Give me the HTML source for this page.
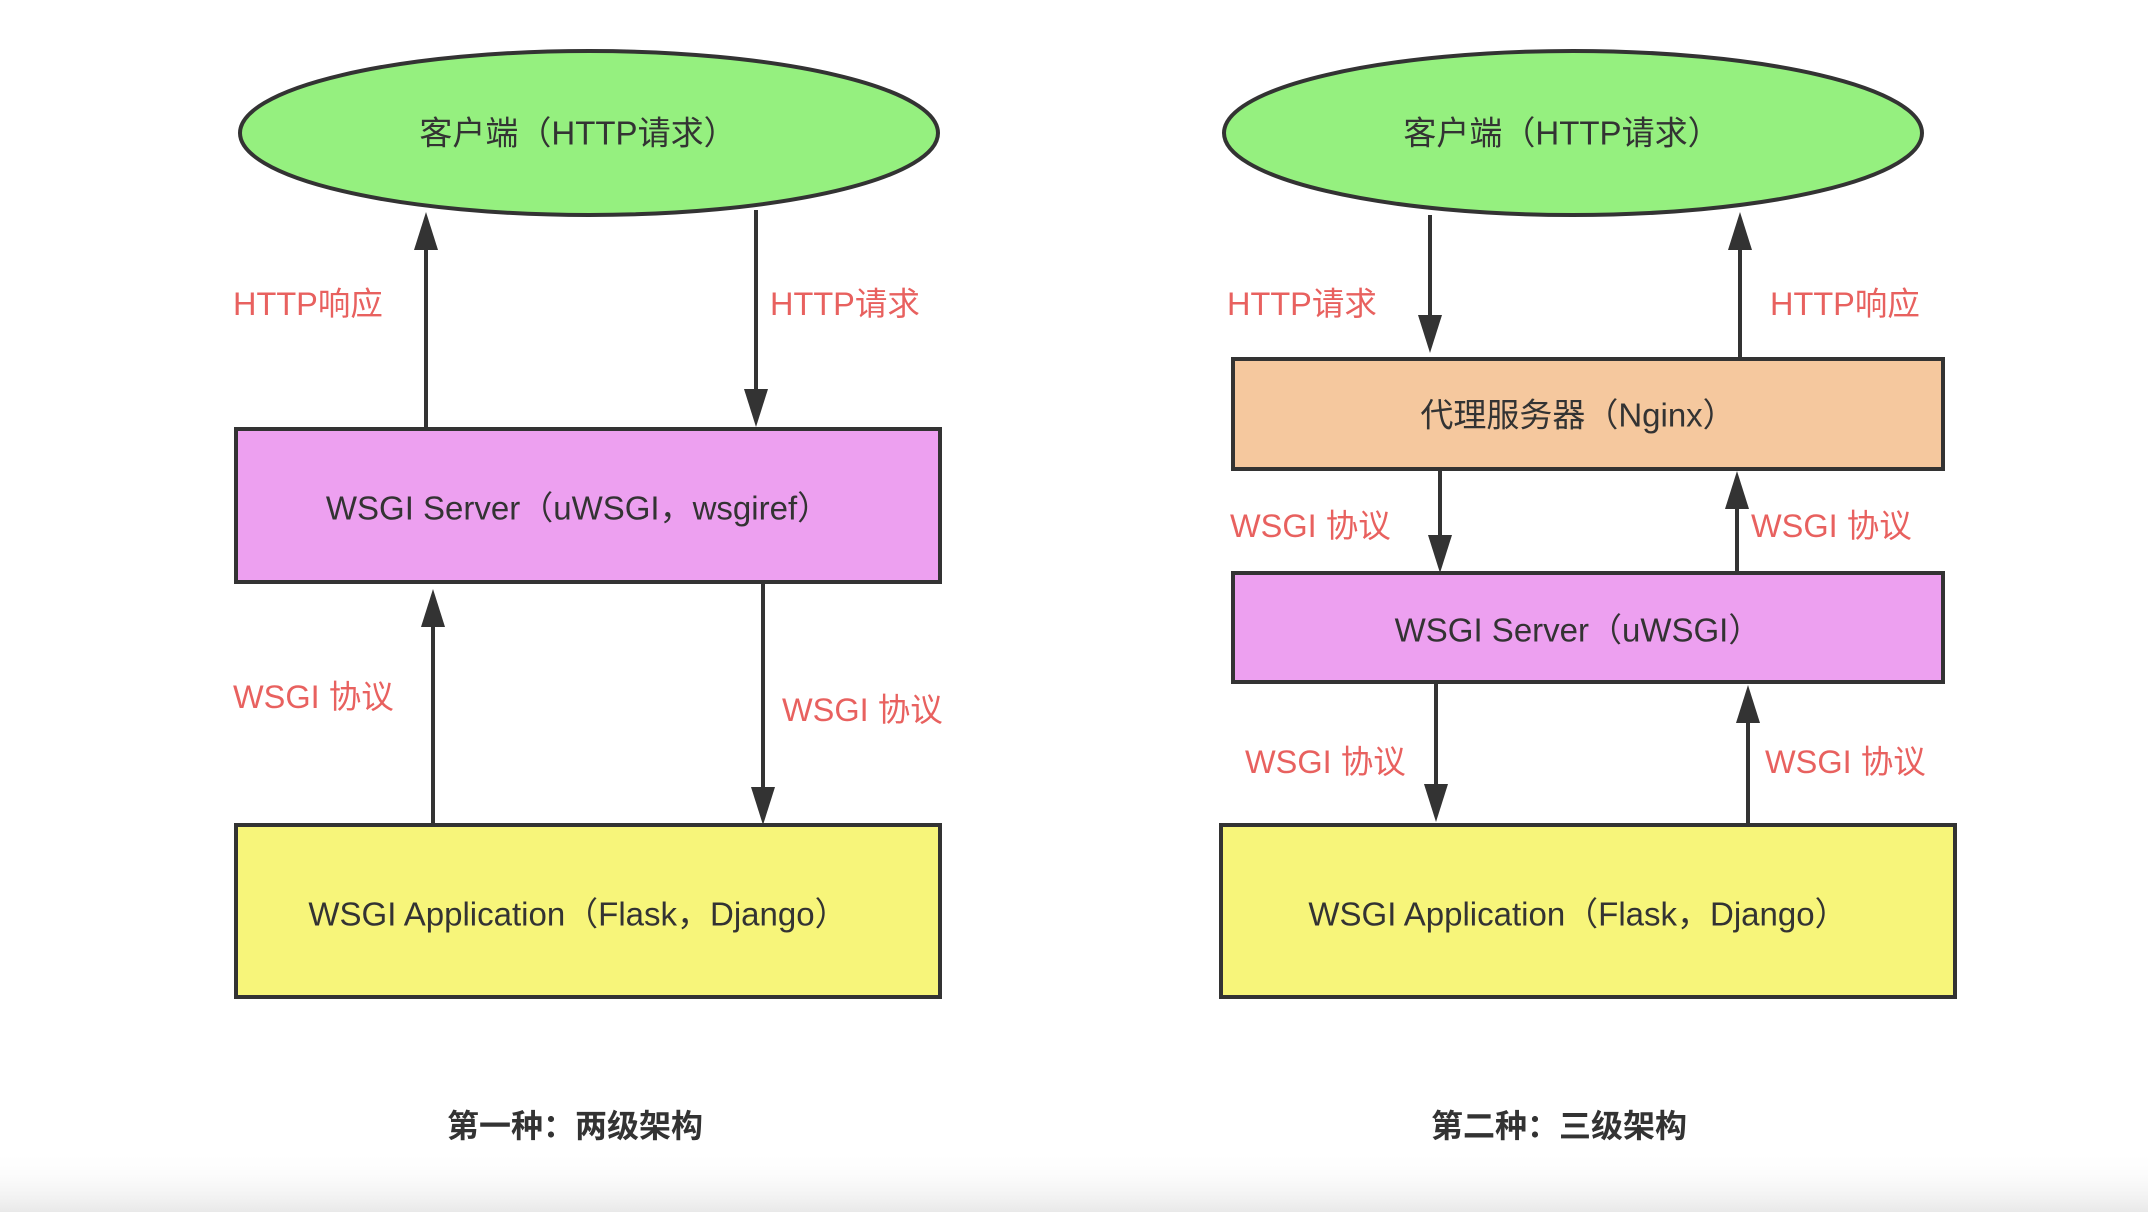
<!DOCTYPE html>
<html><head><meta charset="utf-8"><style>
html,body{margin:0;padding:0;background:#fff;}
svg{display:block;}
text{font-family:"Liberation Sans","Noto Sans CJK SC",sans-serif;}
</style></head><body>
<svg width="2148" height="1212" viewBox="0 0 2148 1212" xmlns="http://www.w3.org/2000/svg">
<defs>
<linearGradient id="bg" x1="0" y1="0" x2="0" y2="1">
<stop offset="0" stop-color="#ffffff" stop-opacity="0"/>
<stop offset="1" stop-color="#e9e9e9"/>
</linearGradient>
</defs>
<rect x="0" y="1150" width="2148" height="62" fill="url(#bg)"/>
<g stroke="#333" stroke-width="4">
<ellipse cx="589" cy="133" rx="349" ry="82" fill="#95f07f"/>
<rect x="236" y="429" width="704" height="153" fill="#eda0f0"/>
<rect x="236" y="825" width="704" height="172" fill="#f7f57a"/>
<ellipse cx="1573" cy="133" rx="349" ry="82" fill="#95f07f"/>
<rect x="1233" y="359" width="710" height="110" fill="#f5c89e"/>
<rect x="1233" y="573" width="710" height="109" fill="#eda0f0"/>
<rect x="1221" y="825" width="734" height="172" fill="#f7f57a"/>
<line x1="426" y1="427" x2="426" y2="245"/>
<line x1="756" y1="210" x2="756" y2="395"/>
<line x1="433" y1="825" x2="433" y2="620"/>
<line x1="763" y1="582" x2="763" y2="792"/>
<line x1="1430" y1="215" x2="1430" y2="320"/>
<line x1="1740" y1="359" x2="1740" y2="245"/>
<line x1="1440" y1="469" x2="1440" y2="540"/>
<line x1="1737" y1="573" x2="1737" y2="504"/>
<line x1="1436" y1="682" x2="1436" y2="790"/>
<line x1="1748" y1="825" x2="1748" y2="718"/>
</g>
<g fill="#333">
<polygon points="426,212 414,250 438,250"/>
<polygon points="756,427 744,389 768,389"/>
<polygon points="433,589 421,627 445,627"/>
<polygon points="763,825 751,787 775,787"/>
<polygon points="1430,353 1418,315 1442,315"/>
<polygon points="1740,212 1728,250 1752,250"/>
<polygon points="1440,573 1428,535 1452,535"/>
<polygon points="1737,471 1725,509 1749,509"/>
<polygon points="1436,822 1424,784 1448,784"/>
<polygon points="1748,685 1736,723 1760,723"/>
</g>
<g font-size="33" fill="#333" text-anchor="middle" dominant-baseline="central">
<text x="578" y="133">客户端（HTTP请求）</text>
<text x="578" y="508">WSGI Server（uWSGI，wsgiref）</text>
<text x="578" y="914">WSGI Application（Flask，Django）</text>
<text x="1562" y="133">客户端（HTTP请求）</text>
<text x="1578" y="415">代理服务器（Nginx）</text>
<text x="1578" y="630">WSGI Server（uWSGI）</text>
<text x="1578" y="914">WSGI Application（Flask，Django）</text>
</g>
<g font-size="32.5" fill="#e8615f" dominant-baseline="central">
<text x="233" y="304">HTTP响应</text>
<text x="770" y="304">HTTP请求</text>
<text x="233" y="697">WSGI 协议</text>
<text x="782" y="710">WSGI 协议</text>
<text x="1227" y="304">HTTP请求</text>
<text x="1770" y="304">HTTP响应</text>
<text x="1230" y="526">WSGI 协议</text>
<text x="1751" y="526">WSGI 协议</text>
<text x="1245" y="762">WSGI 协议</text>
<text x="1765" y="762">WSGI 协议</text>
</g>
<g font-size="32" font-weight="bold" fill="#333" text-anchor="middle" dominant-baseline="central">
<text x="575" y="1126">第一种：两级架构</text>
<text x="1559" y="1126">第二种：三级架构</text>
</g>
</svg>
</body></html>
